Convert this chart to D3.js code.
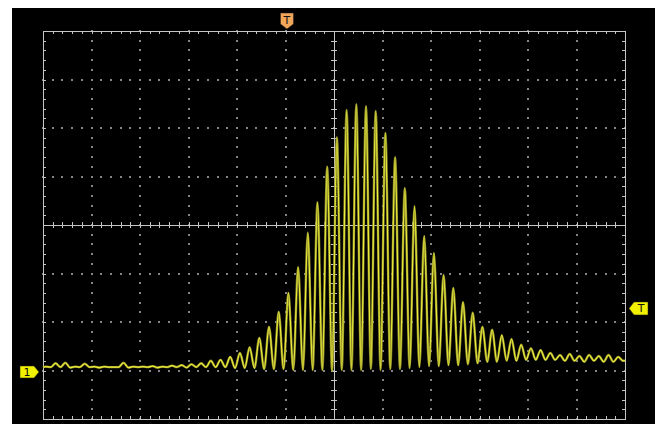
<!DOCTYPE html>
<head>
<meta charset="utf-8">
<title>Scope capture</title>
<style>

body {
  margin: 0;
  background: #fff;
}

svg {
  display: block;
  font-family: "DejaVu Sans", sans-serif;
}

.frame line {
  stroke: #c6c6c6;
  shape-rendering: crispEdges;
}

.dot {
  fill: #858585;
}

.trace-under {
  fill: none;
  stroke: #8e8e2a;
  stroke-width: 2.4;
}

.trace {
  fill: none;
  stroke: #eeee3a;
  stroke-width: 1.1;
}

</style>
</head>
<body>
<svg id="scope"></svg>

<script src="https://d3js.org/d3.v7.min.js"></script>
<script>

// channel 1, in divisions, one peak and one trough per cycle of the burst
var peaks = [
  -2.92, -2.85, -2.84, -2.92, -2.86, -2.92, -2.92, -2.93, -2.84, -2.92,
  -2.92, -2.91, -2.92, -2.90, -2.89, -2.87, -2.85, -2.80, -2.78, -2.72,
  -2.64, -2.52, -2.33, -2.10, -1.79, -1.40, -0.87, -0.16, 0.47, 1.20,
  1.81, 2.37, 2.49, 2.45, 2.35, 1.90, 1.40, 0.76, 0.39, -0.23,
  -0.58, -1.03, -1.30, -1.59, -1.81, -2.10, -2.16, -2.27, -2.35, -2.47,
  -2.54, -2.58, -2.64, -2.68, -2.66, -2.70, -2.68, -2.70, -2.68, -2.72
];
var troughs = [
  -2.93, -2.93, -2.94, -2.93, -2.93, -2.94, -2.93, -2.93, -2.94, -2.93,
  -2.93, -2.94, -2.93, -2.93, -2.94, -2.93, -2.93, -2.93, -2.93, -2.95,
  -2.95, -2.95, -2.97, -2.97, -2.97, -2.99, -2.99, -2.99, -2.99, -3.01,
  -2.99, -2.99, -2.99, -2.97, -2.99, -2.97, -2.97, -2.95, -2.93, -2.91,
  -2.91, -2.89, -2.89, -2.87, -2.85, -2.82, -2.82, -2.80, -2.80, -2.78,
  -2.78, -2.78, -2.78, -2.80, -2.80, -2.82, -2.80, -2.82, -2.82, -2.80
];
var traceStart = -2.93,
    traceEnd = -2.80;

// acquisition: first peak time and cycle length, in divisions
var firstPeak = -5.94,
    cycle = 0.2;

// marker positions
var triggerTime = -0.97,
    triggerLevel = -1.72,
    ch1Ground = -3.03;

var hDivs = d3.range(-6, 7),
    vDivs = d3.range(-4, 5),
    hMinor = d3.range(-30, 31).map(function(d) { return d / 5; }),
    vMinor = d3.range(-20, 21).map(function(d) { return d / 5; });

var width = 661,
    height = 424;

var x = d3.scaleLinear().domain([-6, 6]).range([43, 625]);
var y = d3.scaleLinear().domain([-4, 4]).range([419, 31]);

var svg = d3.select("#scope")
    .attr("width", width)
    .attr("height", height);

svg.append("rect")
    .attr("x", 12)
    .attr("y", 8)
    .attr("width", 643)
    .attr("height", height - 8)
    .attr("fill", "#000");

// dotted graticule
var dots = svg.append("g");
hDivs.filter(function(d) { return d != 0 && Math.abs(d) != 6; }).forEach(function(t) {
  dots.selectAll(null)
    .data(vMinor)
    .enter().append("rect")
      .attr("class", "dot")
      .attr("x", Math.round(x(t)) - 1)
      .attr("y", function(v) { return Math.round(y(v)) - 1; })
      .attr("width", 2)
      .attr("height", 2);
});
vDivs.filter(function(d) { return d != 0 && Math.abs(d) != 4; }).forEach(function(v) {
  dots.selectAll(null)
    .data(hMinor)
    .enter().append("rect")
      .attr("class", "dot")
      .attr("x", function(t) { return Math.round(x(t)) - 1; })
      .attr("y", Math.round(y(v)) - 1)
      .attr("width", 2)
      .attr("height", 2);
});

// border and centre cross
var frame = svg.append("g").attr("class", "frame");
[[-6, -4, -6, 4], [6, -4, 6, 4], [-6, 4, 6, 4], [-6, -4, 6, -4], [0, -4, 0, 4], [-6, 0, 6, 0]].forEach(function(s) {
  frame.append("line")
    .attr("x1", Math.round(x(s[0])) + 0.5).attr("y1", Math.round(y(s[1])) + 0.5)
    .attr("x2", Math.round(x(s[2])) + 0.5).attr("y2", Math.round(y(s[3])) + 0.5);
});

frame.selectAll(".xt")
  .data(hMinor)
  .enter().append("g")
    .each(function(t) {
      var g = d3.select(this), px = Math.round(x(t)) + 0.5;
      g.append("line").attr("x1", px).attr("x2", px).attr("y1", y(4)).attr("y2", y(4) + 3);
      g.append("line").attr("x1", px).attr("x2", px).attr("y1", y(-4)).attr("y2", y(-4) - 3);
      g.append("line").attr("x1", px).attr("x2", px).attr("y1", y(0) - 3).attr("y2", y(0) + 3);
    });

frame.selectAll(".yt")
  .data(vMinor)
  .enter().append("g")
    .each(function(v) {
      var g = d3.select(this), py = Math.round(y(v)) + 0.5;
      g.append("line").attr("y1", py).attr("y2", py).attr("x1", x(-6)).attr("x2", x(-6) + 3);
      g.append("line").attr("y1", py).attr("y2", py).attr("x1", x(6)).attr("x2", x(6) - 3);
      g.append("line").attr("y1", py).attr("y2", py).attr("x1", x(0) - 3).attr("x2", x(0) + 3);
    });

// trace
var points = [[-6, traceStart]];
peaks.forEach(function(p, i) {
  points.push([firstPeak + i * cycle, p]);
  points.push([firstPeak + i * cycle + cycle / 2, troughs[i]]);
});
points.push([6, traceEnd]);

var line = d3.line()
    .curve(d3.curveMonotoneX)
    .x(function(d) { return x(d[0]); })
    .y(function(d) { return y(d[1]); });

svg.append("path").datum(points).attr("class", "trace-under").attr("d", line);
svg.append("path").datum(points).attr("class", "trace").attr("d", line);

// markers
function marker(shape, fill, label, lx, ly) {
  var g = svg.append("g");
  g.append("path")
    .attr("d", "M" + shape.join("L") + "Z")
    .attr("fill", fill)
    .attr("stroke", "#222")
    .attr("stroke-width", 0.5);
  g.append("text")
    .attr("x", lx)
    .attr("y", ly)
    .attr("text-anchor", "middle")
    .attr("font-size", 11)
    .attr("fill", "#111")
    .text(label);
}

var tx = x(triggerTime);
marker([[tx - 6.5, 13], [tx + 6.5, 13], [tx + 6.5, 24], [tx, 29], [tx - 6.5, 24]],
  "#f2a65a", "T", tx, 24);

var gy = y(ch1Ground);
marker([[20, gy - 6], [34, gy - 6], [39, gy], [34, gy + 6], [20, gy + 6]],
  "#f0f000", "1", 27, gy + 4);

var ly = y(triggerLevel);
marker([[629, ly], [634, ly - 6.5], [648, ly - 6.5], [648, ly + 6.5], [634, ly + 6.5]],
  "#f0f000", "T", 641, ly + 4);

</script>
</body>
